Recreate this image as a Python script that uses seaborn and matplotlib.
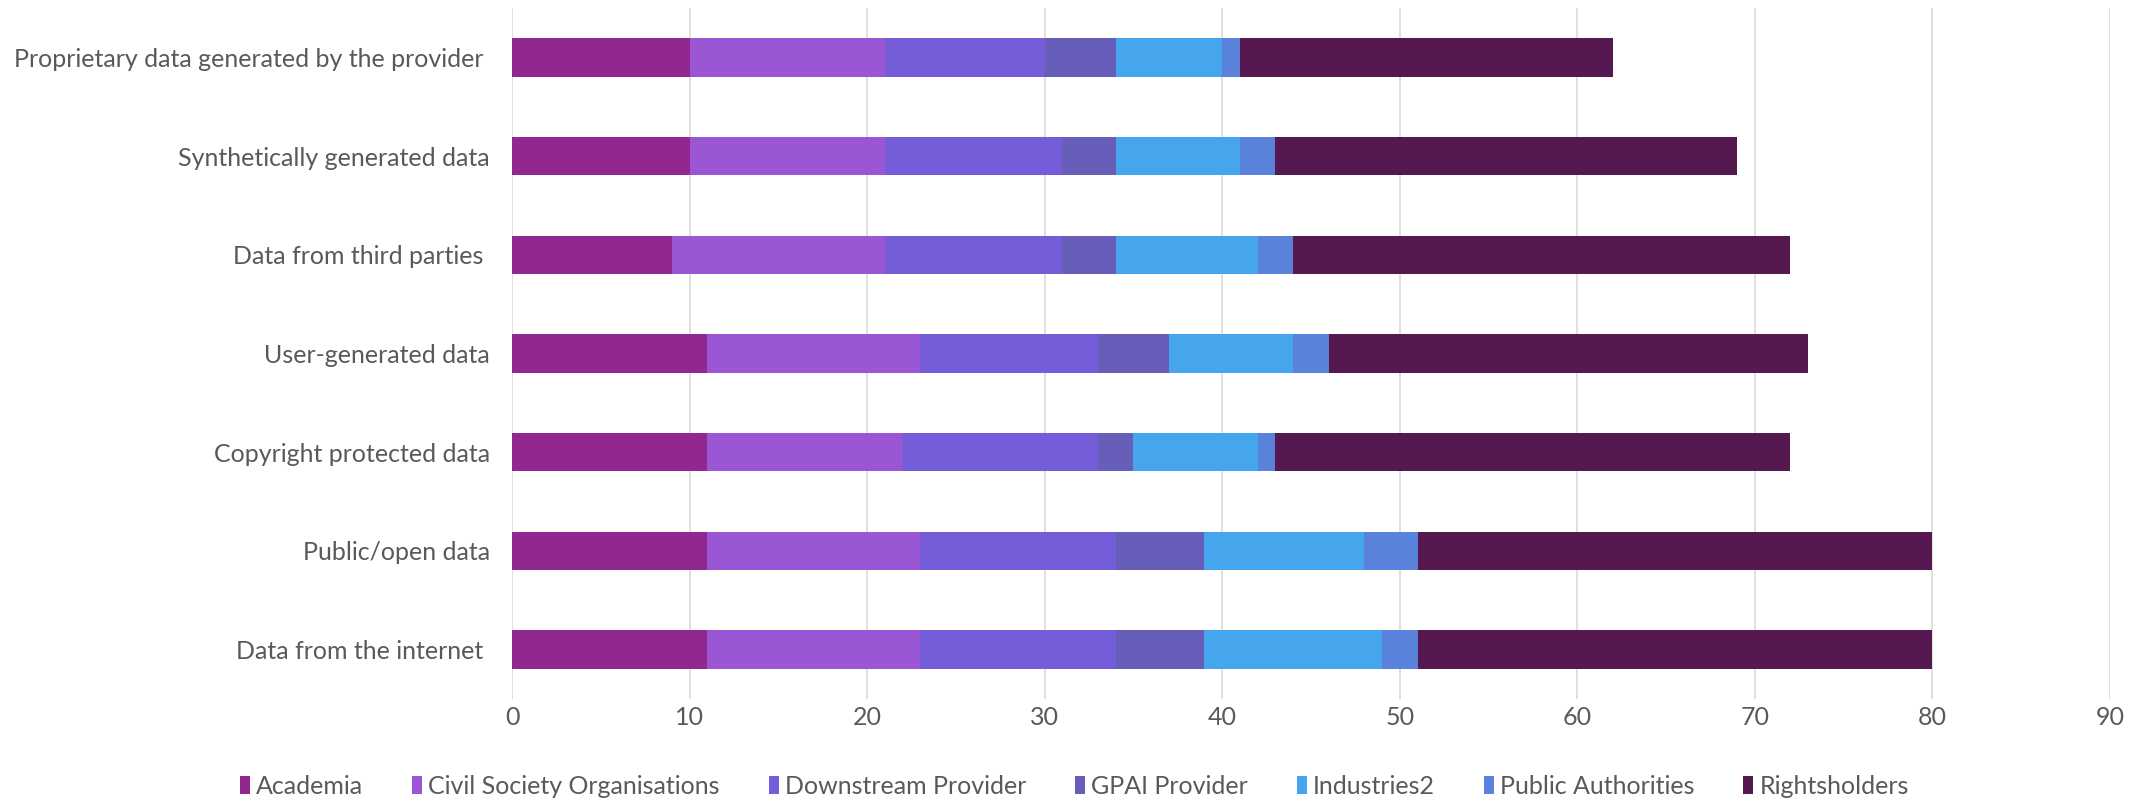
import matplotlib
matplotlib.use("Agg")
import matplotlib.pyplot as plt
from matplotlib.patches import Patch
import numpy as np
import pandas as pd
import seaborn as sns

categories = [
    "Proprietary data generated by the provider ",
    "Synthetically generated data",
    "Data from third parties ",
    "User-generated data",
    "Copyright protected data",
    "Public/open data",
    "Data from the internet ",
]
series_names = ["Academia", "Civil Society Organisations", "Downstream Provider",
                "GPAI Provider", "Industries2", "Public Authorities", "Rightsholders"]
academia = [10, 10, 9, 11, 11, 11, 11]
civil_society = [11, 11, 12, 12, 11, 12, 12]
downstream = [9, 10, 10, 10, 11, 11, 11]
gpai = [4, 3, 3, 4, 2, 5, 5]
industries2 = [6, 7, 8, 7, 7, 9, 10]
public_auth = [1, 2, 2, 2, 1, 3, 2]
rightsholders = [21, 26, 28, 27, 29, 29, 29]
colors = ["#92278F", "#9B57D3", "#755DD9", "#665EB8", "#45A5ED", "#5982DB", "#561850"]
x_ticks = [0, 10, 20, 30, 40, 50, 60, 70, 80, 90]

sns.set_theme(style="white")
plt.rcParams["font.family"] = ["Lato", "DejaVu Sans"]

values = np.array([academia, civil_society, downstream, gpai, industries2,
                   public_auth, rightsholders], dtype=float)
cum = np.cumsum(values, axis=0)

fig = plt.figure(figsize=(21.49, 8.02), dpi=100)
ax = fig.add_axes([512 / 2149, 1 - 699 / 802, (2110 - 512) / 2149, (699 - 8) / 802])

# draw cumulative totals from last to first so they stack visually
for i in range(len(series_names) - 1, -1, -1):
    df = pd.DataFrame({"category": categories, "value": cum[i]})
    sns.barplot(data=df, y="category", x="value", order=categories, color=colors[i],
                width=0.39, saturation=1, linewidth=0, ax=ax, zorder=2)

ax.set_xlim(0, 90)
ax.set_xticks(x_ticks)
ax.set_xticklabels([str(t) for t in x_ticks])
ax.set_ylim(len(categories) - 0.5, -0.5)
ax.set_xlabel("")
ax.set_ylabel("")
ax.grid(axis="x", color="#D9D9D9", linewidth=1.2, zorder=0)
ax.grid(axis="y", visible=False)
ax.set_axisbelow(True)
for s in ax.spines.values():
    s.set_visible(False)
ax.tick_params(axis="y", length=0, pad=16, labelsize=18, labelcolor="#595959")
ax.tick_params(axis="x", length=0, pad=5, labelsize=18, labelcolor="#595959")

handles = [Patch(facecolor=c, edgecolor="none", label=n) for n, c in zip(series_names, colors)]
fig.legend(handles=handles, loc="center", bbox_to_anchor=(0.5, 1 - 786 / 802), ncol=7,
           frameon=False, fontsize=18, labelcolor="#595959", handlelength=0.4,
           handleheight=0.75, handletextpad=0.25, columnspacing=1.95)

fig.savefig("out.png", dpi=100)
